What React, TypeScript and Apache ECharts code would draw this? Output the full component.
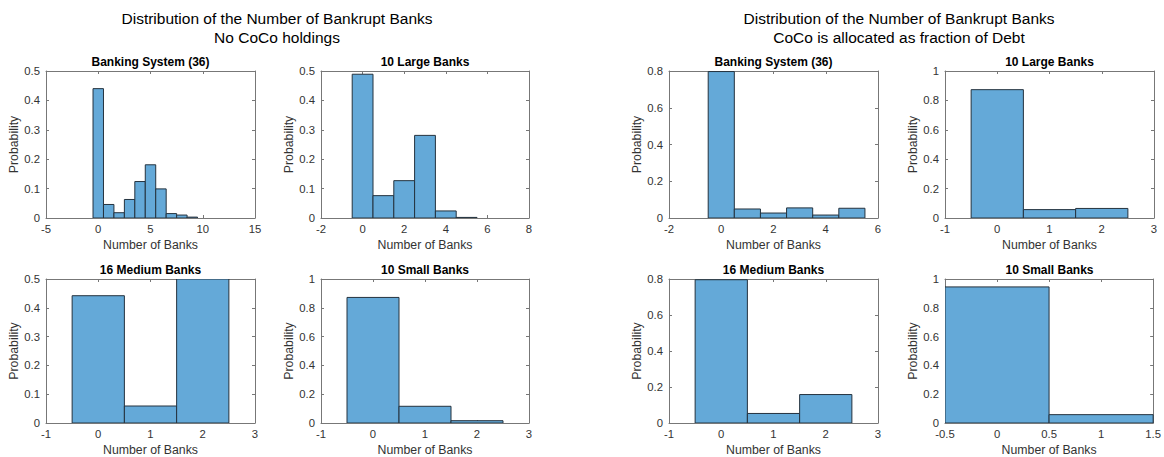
import React, { useEffect, useRef } from "react";
import * as echarts from "echarts";

// ---- Data ----
const mainTitleLeft = ["Distribution of the Number of Bankrupt Banks", "No CoCo holdings"];
const mainTitleRight = ["Distribution of the Number of Bankrupt Banks", "CoCo is allocated as fraction of Debt"];

const panelTitles = [
  "Banking System (36)",
  "10 Large Banks",
  "16 Medium Banks",
  "10 Small Banks",
  "Banking System (36)",
  "10 Large Banks",
  "16 Medium Banks",
  "10 Small Banks",
];

// bin centers (number of banks) and probabilities per panel
const p1Bins = [0, 1, 2, 3, 4, 5, 6, 7, 8, 9];
const p1Prob = [0.44, 0.046, 0.018, 0.063, 0.124, 0.181, 0.099, 0.015, 0.01, 0.003];
const p2Bins = [0, 1, 2, 3, 4, 5];
const p2Prob = [0.489, 0.076, 0.127, 0.281, 0.024, 0.002];
const p3Bins = [0, 1, 2];
const p3Prob = [0.442, 0.059, 0.5];
const p4Bins = [0, 1, 2];
const p4Prob = [0.872, 0.116, 0.016];
const p5Bins = [0, 1, 2, 3, 4, 5];
const p5Prob = [0.797, 0.049, 0.027, 0.055, 0.016, 0.053];
const p6Bins = [0, 1, 2];
const p6Prob = [0.873, 0.057, 0.065];
const p7Bins = [0, 1, 2];
const p7Prob = [0.796, 0.053, 0.158];
const p8Bins = [0, 1];
const p8Prob = [0.945, 0.058];

const binsList = [p1Bins, p2Bins, p3Bins, p4Bins, p5Bins, p6Bins, p7Bins, p8Bins];
const probList = [p1Prob, p2Prob, p3Prob, p4Prob, p5Prob, p6Prob, p7Prob, p8Prob];

// axis ranges
const xMins = [-5, -2, -1, -1, -2, -1, -1, -0.5];
const xMaxs = [15, 8, 3, 3, 6, 3, 3, 1.5];
const xSteps = [5, 2, 1, 1, 2, 1, 1, 0.5];
const yMaxs = [0.5, 0.5, 0.5, 1, 0.8, 1, 0.8, 1];
const ySteps = [0.1, 0.1, 0.1, 0.2, 0.2, 0.2, 0.2, 0.2];

const xLabel = "Number of Banks";
const yLabel = "Probability";

// ---- Layout ----
const gridRects = [
  { left: 46, top: 71, width: 209, height: 147 },
  { left: 321, top: 71, width: 208, height: 147 },
  { left: 46, top: 279, width: 209, height: 146 },
  { left: 321, top: 279, width: 208, height: 146 },
  { left: 669, top: 71, width: 209, height: 147 },
  { left: 945, top: 71, width: 209, height: 147 },
  { left: 669, top: 279, width: 209, height: 146 },
  { left: 945, top: 279, width: 209, height: 146 },
];

const FONT = "'Liberation Sans', Arial, Helvetica, sans-serif";
const AXIS_COLOR = "#777777";
const TEXT_COLOR = "#333333";
const BAR_FILL = "#64a9d8";
const BAR_EDGE = "#24323e";

export default function App() {
  const ref = useRef<HTMLDivElement>(null);

  useEffect(() => {
    if (!ref.current) return;
    const chart = echarts.init(ref.current, undefined, { renderer: "svg" });

    const grid: any[] = [];
    const xAxis: any[] = [];
    const yAxis: any[] = [];
    const series: any[] = [];
    const title: any[] = [];

    gridRects.forEach((g, i) => {
      grid.push({ ...g, show: false, containLabel: false });
      const axisLine = { show: true, onZero: false, lineStyle: { color: AXIS_COLOR, width: 1 } };
      const tick = { show: true, inside: true, length: 3, lineStyle: { color: AXIS_COLOR } };
      xAxis.push({
        type: "value",
        gridIndex: i,
        position: "bottom",
        min: xMins[i],
        max: xMaxs[i],
        interval: xSteps[i],
        axisLine,
        axisTick: tick,
        splitLine: { show: false },
        axisLabel: { color: TEXT_COLOR, fontSize: 11.3, fontFamily: FONT, margin: 5 },
        name: xLabel,
        nameLocation: "middle",
        nameGap: 21,
        nameTextStyle: { color: TEXT_COLOR, fontSize: 12.3, fontFamily: FONT },
      });
      xAxis.push({
        type: "value",
        gridIndex: i,
        position: "top",
        min: xMins[i],
        max: xMaxs[i],
        interval: xSteps[i],
        axisLine,
        axisTick: tick,
        splitLine: { show: false },
        axisLabel: { show: false },
      });
      yAxis.push({
        type: "value",
        gridIndex: i,
        position: "left",
        min: 0,
        max: yMaxs[i],
        interval: ySteps[i],
        axisLine,
        axisTick: tick,
        splitLine: { show: false },
        axisLabel: { color: TEXT_COLOR, fontSize: 11.3, fontFamily: FONT, margin: 6 },
        name: yLabel,
        nameLocation: "middle",
        nameGap: 24,
        nameTextStyle: { color: TEXT_COLOR, fontSize: 12.3, fontFamily: FONT },
      });
      yAxis.push({
        type: "value",
        gridIndex: i,
        position: "right",
        min: 0,
        max: yMaxs[i],
        interval: ySteps[i],
        axisLine,
        axisTick: tick,
        splitLine: { show: false },
        axisLabel: { show: false },
      });

      series.push({
        type: "custom",
        xAxisIndex: i * 2,
        yAxisIndex: i * 2,
        clip: true,
        data: binsList[i].map((b, k) => [b, probList[i][k]]),
        renderItem: (params: any, api: any) => {
          const c = api.value(0);
          const v = api.value(1);
          const p0 = api.coord([c - 0.5, 0]);
          const p1 = api.coord([c + 0.5, v]);
          return {
            type: "rect",
            shape: { x: p0[0], y: p1[1], width: p1[0] - p0[0], height: p0[1] - p1[1] },
            style: { fill: BAR_FILL, stroke: BAR_EDGE, lineWidth: 1 },
          };
        },
      });

      title.push({
        text: panelTitles[i],
        left: g.left + g.width / 2,
        top: g.top - 15,
        textAlign: "center",
        padding: 0,
        textStyle: { fontSize: 12, fontWeight: "bold", color: "#000", fontFamily: FONT },
      });
    });

    const mainStyle = { fontSize: 15.5, fontWeight: "normal", color: "#000", fontFamily: FONT, lineHeight: 19 };
    title.push({
      text: mainTitleLeft.join("\n"),
      left: 277,
      top: 9,
      textAlign: "center",
      padding: 0,
      textStyle: mainStyle,
    });
    title.push({
      text: mainTitleRight.join("\n"),
      left: 899,
      top: 9,
      textAlign: "center",
      padding: 0,
      textStyle: mainStyle,
    });

    chart.setOption({
      animation: false,
      backgroundColor: "#ffffff",
      title,
      grid,
      xAxis,
      yAxis,
      series,
    });

    return () => chart.dispose();
  }, []);

  return (
    <div
      ref={ref}
      style={{ position: "fixed", left: 0, top: 0, width: 1164, height: 457, background: "#fff" }}
    />
  );
}
